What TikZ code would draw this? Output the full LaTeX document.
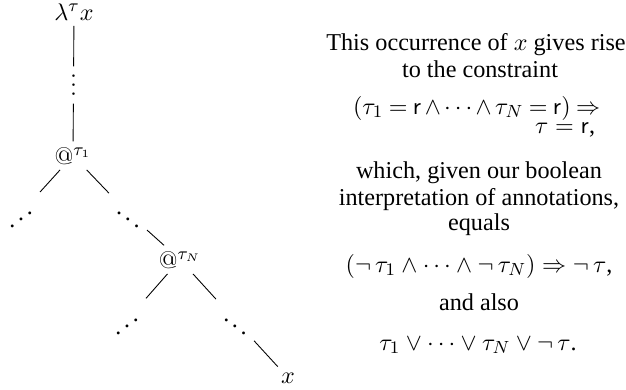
\documentclass[tikz,border=0pt]{standalone}
\usepackage[no-math]{fontspec}
\setmainfont{Liberation Serif}
\usetikzlibrary{positioning}

\begin{document}
\begin{tikzpicture}[
    x=0.4545pt, y=-0.4545pt,
    every node/.style={font=\fontsize{11}{13}\selectfont},
    term/.style={inner sep=2.5pt, anchor=base},
    dts/.style={inner sep=2.5pt},
    edge/.style={black, line width=0.4pt},
    txt/.style={anchor=base},
    eqn/.style={anchor=base east},
]
\useasboundingbox (0,0) rectangle (626,389);

% ============================================================ the term tree
\node[term] (lam)  at (74, 20)   {$\lambda^{\tau} x$};
\node[dts, rotate=90] (vd) at (73.5, 85) {$.\kern1.2pt.\kern1.2pt.$};
\node[term] (app1) at (73, 164)  {$@^{\tau_1}$};
\node[dts]  (l1)   at (21, 213)  {\reflectbox{$\ddots$}};
\node[dts]  (r1)   at (128, 213) {$\ddots$};
\node[term] (appN) at (180, 268) {$@^{\tau_N}$};
\node[dts]  (l2)   at (127, 320) {\reflectbox{$\ddots$}};
\node[dts]  (r2)   at (235, 320) {$\ddots$};
\node[term] (var)  at (288, 383) {$x$};

\draw[edge] (lam) -- (vd);
\draw[edge] (vd) -- (app1);
\draw[edge] (app1) -- (l1);
\draw[edge] (app1) -- (r1);
\draw[edge] (r1) -- (appN);
\draw[edge] (appN) -- (l2);
\draw[edge] (appN) -- (r2);
\draw[edge] (r2) -- (var);

% ============================================================ the constraint it gives
\node[txt] (t1) at (476, 50)  {This occurrence of $x$ gives rise};
\node[txt] (t2) at (480, 77)  {to the constraint};
\node[eqn] (e1) at (608, 114)
    {\medmuskip=2.5mu \thickmuskip=4mu
     $(\tau_1 = \mathsf{r} \land \cdots \land \tau_N = \mathsf{r}) \Rightarrow$};
\node[eqn] (e1b) at (603, 133) {$\tau = \mathsf{r}$,};
\node[txt] (t3) at (479, 178) {which, given our boolean};
\node[txt] (t4) at (479, 205) {interpretation of annotations,};
\node[txt] (t5) at (479, 230) {equals};
\node[txt] (e2) at (479, 272)
    {$(\neg\,\tau_1 \land \cdots \land \neg\,\tau_N) \Rightarrow \neg\,\tau$,};
\node[txt] (t6) at (479, 310) {and also};
\node[txt] (e3) at (478, 350)
    {$\tau_1 \lor \cdots \lor \tau_N \lor \neg\,\tau$.};

\end{tikzpicture}
\end{document}
